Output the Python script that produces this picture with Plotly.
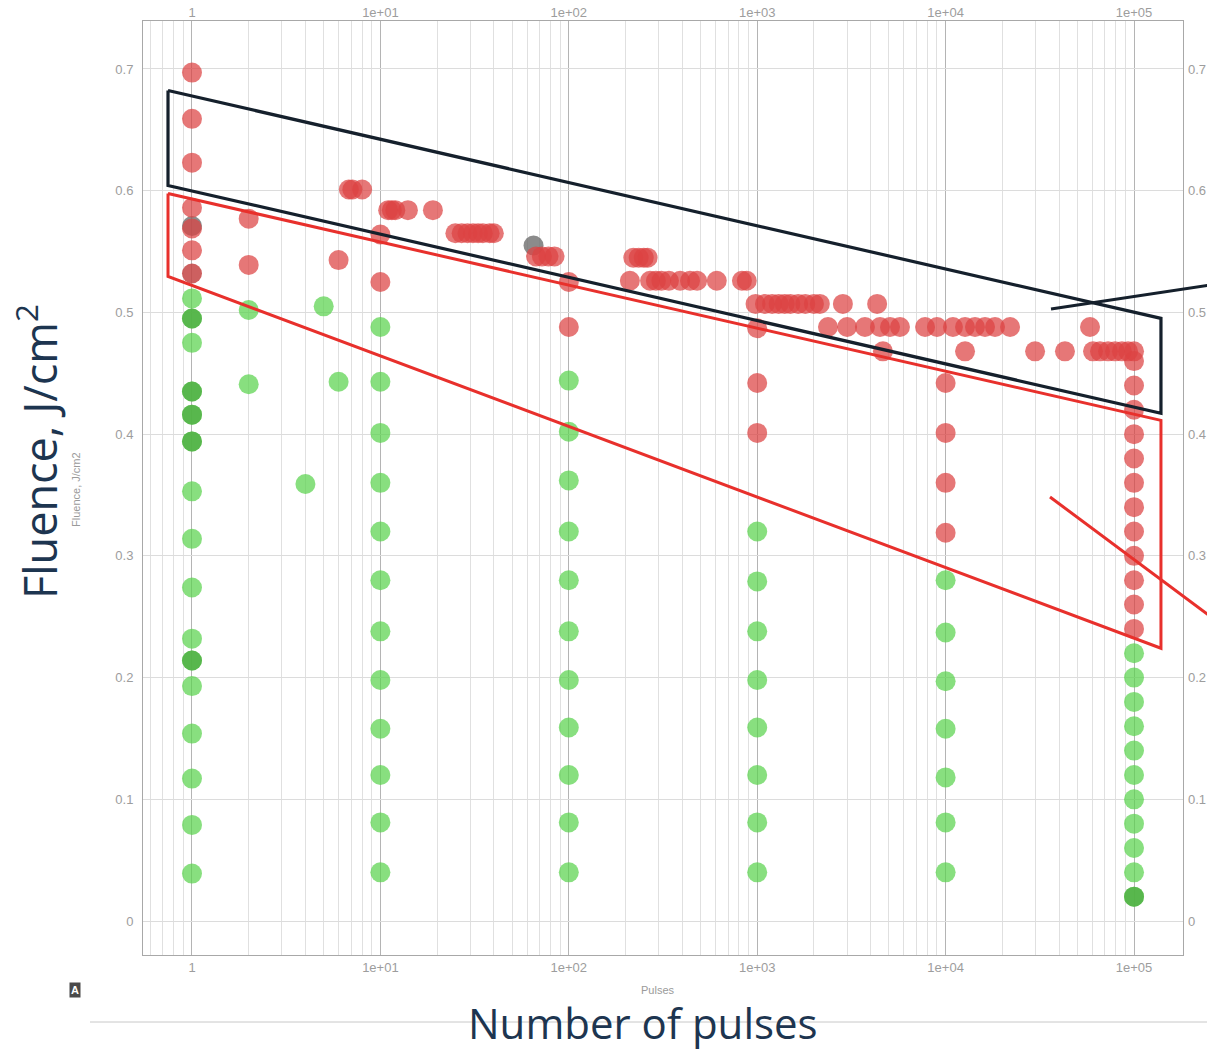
import numpy as np
import plotly.graph_objects as go

# ---------------- data ----------------
red_x = ([1] * 6 + [2, 2, 6, 6.8, 7.1, 8, 10, 10]
         + [11, 11.5, 12, 14, 19]
         + [25, 27, 29, 31, 33, 35, 38, 40]
         + [67, 72, 78, 84]
         + [100, 100]
         + [220, 235, 250, 262]
         + [211, 270, 290, 310, 340, 390, 440, 480, 610, 830, 880]
         + [1000, 1000, 1000]
         + [980, 1100, 1200, 1300, 1400, 1500, 1650, 1800, 2000, 2150, 2850, 4330]
         + [2375, 3000, 3730, 4485, 5070, 5725, 7780, 9000, 10940, 12680, 14320, 16190, 18290, 21980, 58400]
         + [4650, 12680, 29850, 43000, 60600, 66000, 72800, 79300, 86300, 93000]
         + [10000] * 4
         + [100000] * 13)
red_y = ([0.697, 0.659, 0.623, 0.586, 0.569, 0.551]
         + [0.577, 0.539, 0.543, 0.601, 0.601, 0.601, 0.564, 0.525]
         + [0.584] * 5
         + [0.565] * 8
         + [0.546] * 4
         + [0.525, 0.488]
         + [0.545] * 4
         + [0.526] * 11
         + [0.487, 0.442, 0.401]
         + [0.507] * 12
         + [0.488] * 15
         + [0.468] * 10
         + [0.442, 0.401, 0.360, 0.319]
         + [0.468, 0.46, 0.44, 0.42, 0.40, 0.38, 0.36, 0.34, 0.32, 0.30, 0.28, 0.26, 0.24])

dark_red_x = [1]
dark_red_y = [0.532]

green_x = ([1] * 16 + [2, 2, 4, 5, 6]
           + [10] * 12 + [100] * 11 + [1000] * 8 + [10000] * 7 + [100000] * 11)
green_y = ([0.5115, 0.475, 0.353, 0.314, 0.274, 0.232, 0.193, 0.154, 0.117, 0.079, 0.039]
           + [0.495, 0.435, 0.416, 0.394, 0.214]
           + [0.502, 0.441, 0.359, 0.505, 0.443]
           + [0.488, 0.443, 0.401, 0.360, 0.320, 0.280, 0.238, 0.198, 0.158, 0.120, 0.081, 0.040]
           + [0.444, 0.402, 0.362, 0.320, 0.280, 0.238, 0.198, 0.159, 0.120, 0.081, 0.040]
           + [0.320, 0.279, 0.238, 0.198, 0.159, 0.120, 0.081, 0.040]
           + [0.280, 0.237, 0.197, 0.158, 0.118, 0.081, 0.040]
           + [0.22, 0.20, 0.18, 0.16, 0.14, 0.12, 0.10, 0.08, 0.06, 0.04, 0.02])

dark_green_x = [1, 1, 1, 1, 1, 100000]
dark_green_y = [0.495, 0.435, 0.416, 0.394, 0.214, 0.02]

gray_x = [1, 65]
gray_y = [0.571, 0.555]

# annotation boxes (corners: left/right pulses, fluence)
box_x = [0.746, 139000, 139000, 0.746, 0.746]
black_box_y = [0.6823, 0.4951, 0.4171, 0.6043, 0.6823]
red_box_y = [0.5977, 0.4113, 0.2241, 0.5296, 0.5977]

x_tickvals = [1, 10, 100, 1000, 10000, 100000]
x_ticktext = ["1", "1e+01", "1e+02", "1e+03", "1e+04", "1e+05"]
y_tickvals = [0, 0.1, 0.2, 0.3, 0.4, 0.5, 0.6, 0.7]
y_ticktext = ["0", "0.1", "0.2", "0.3", "0.4", "0.5", "0.6", "0.7"]

# ---------------- figure ----------------
XR = [-0.260, 5.260]
YR = [-0.0279, 0.7394]
minor_vals = [m * 10 ** e for e in range(-1, 6) for m in range(2, 10)
              if XR[0] < np.log10(m * 10 ** e) < XR[1]]

L, R, T, B = 143, 24, 21, 97
W, H = 1207, 1052
PW, PH = W - L - R, H - T - B

tickfont = dict(family="Liberation Sans", size=13, color="#9d9d9d")
mk = dict(size=20, line=dict(width=0))

fig = go.Figure()
fig.add_trace(go.Scatter(x=gray_x, y=gray_y, mode="markers",
                         marker=dict(color="rgba(110,110,110,0.8)", **mk)))
fig.add_trace(go.Scatter(x=green_x, y=green_y, mode="markers",
                         marker=dict(color="rgba(90,210,78,0.72)", **mk)))
fig.add_trace(go.Scatter(x=dark_green_x, y=dark_green_y, mode="markers",
                         marker=dict(color="rgba(78,175,66,0.82)", **mk)))
fig.add_trace(go.Scatter(x=red_x, y=red_y, mode="markers",
                         marker=dict(color="rgba(220,66,66,0.72)", **mk)))
fig.add_trace(go.Scatter(x=dark_red_x, y=dark_red_y, mode="markers",
                         marker=dict(color="rgba(196,68,68,0.85)", **mk)))
fig.add_trace(go.Scatter(x=box_x, y=black_box_y, mode="lines",
                         line=dict(color="#15202c", width=3.2)))
fig.add_trace(go.Scatter(x=box_x, y=red_box_y, mode="lines",
                         line=dict(color="#e8302c", width=3)))
# dummy trace for mirrored axes
fig.add_trace(go.Scatter(x=[1], y=[0.3], xaxis="x2", yaxis="y2", mode="markers",
                         marker=dict(opacity=0), hoverinfo="skip"))

axis_common = dict(showline=True, linecolor="#a8a8a8", linewidth=1, zeroline=False,
                   ticks="", tickfont=tickfont, automargin=False)
fig.update_layout(
    width=W, height=H,
    margin=dict(l=L, r=R, t=T, b=B, autoexpand=False),
    paper_bgcolor="white", plot_bgcolor="white",
    showlegend=False,
    xaxis=dict(type="log", range=XR, tickvals=x_tickvals, ticktext=x_ticktext,
               showgrid=True, gridcolor="#b4b4b4", gridwidth=1, mirror=True,
               minor=dict(tickvals=minor_vals, showgrid=True, gridcolor="#e0e0e0", gridwidth=1, ticks=""),
               **axis_common),
    yaxis=dict(range=YR, tickvals=y_tickvals, ticktext=y_ticktext,
               showgrid=True, gridcolor="#dcdcdc", gridwidth=1, mirror=True,
               ticklabelstandoff=6, **axis_common),
    xaxis2=dict(type="log", range=XR, tickvals=x_tickvals, ticktext=x_ticktext,
                overlaying="x", side="top", showgrid=False, showline=False,
                zeroline=False, ticks="", tickfont=tickfont, automargin=False,
                ticklabelstandoff=0),
    yaxis2=dict(range=YR, tickvals=y_tickvals, ticktext=y_ticktext,
                overlaying="y", side="right", showgrid=False, showline=False,
                zeroline=False, ticks="", tickfont=tickfont, ticklabelstandoff=4,
                automargin=False),
)


def px2paper(px, py):
    return (px - L) / PW, (H - B - py) / PH


def label(text, px, py, size, color, family, angle=0, **kw):
    x, y = px2paper(px, py)
    fig.add_annotation(text=text, xref="paper", yref="paper", x=x, y=y,
                       xanchor="center", yanchor="middle", textangle=angle,
                       showarrow=False, font=dict(family=family, size=size, color=color), **kw)


navy = "#1d3550"
label("Fluence, J/cm<sup>2</sup>", 37, 452, 45, navy, "Open Sans", angle=-90)
label("Number of pulses", 643, 1022, 42, navy, "Open Sans")
label("Fluence, J/cm2", 76, 490, 11, "#9a9a9a", "Liberation Sans", angle=-90)
label("Pulses", 658, 990, 11, "#9a9a9a", "Liberation Sans")
label("<b>A</b>", 75, 990, 11, "white", "Liberation Sans", bgcolor="#4a4a4a", borderpad=1)

# separator line at the bottom
x0, y0 = px2paper(90, 1022)
x1, y1 = px2paper(1207, 1022)
fig.add_shape(type="line", xref="paper", yref="paper", x0=x0, y0=y0, x1=x1, y1=y1,
              line=dict(color="#c8c8c8", width=1), layer="below")
# pointer lines to the right
x0, y0 = px2paper(1051, 309)
x1, y1 = px2paper(1210, 285)
fig.add_shape(type="line", xref="paper", yref="paper", x0=x0, y0=y0, x1=x1, y1=y1,
              line=dict(color="#15202c", width=3))
x0, y0 = px2paper(1050, 497)
x1, y1 = px2paper(1210, 616)
fig.add_shape(type="line", xref="paper", yref="paper", x0=x0, y0=y0, x1=x1, y1=y1,
              line=dict(color="#e8302c", width=3))

fig.write_html("out.html", config={"displayModeBar": False},
               post_script="document.body.style.margin='0px';")
